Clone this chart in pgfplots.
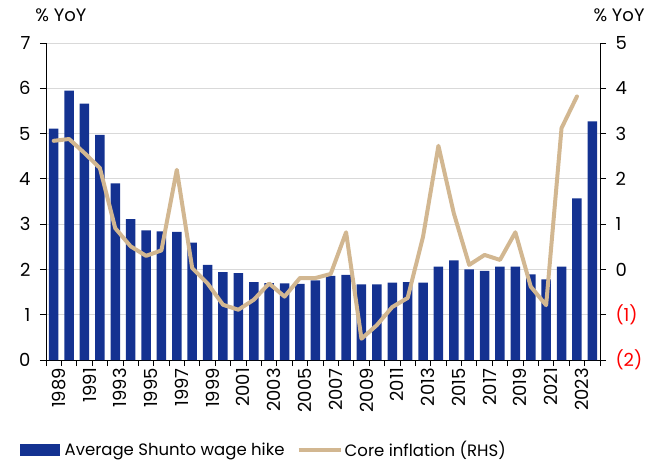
\documentclass[border=0pt]{standalone}
\usepackage{pgfplots}
\pgfplotsset{compat=1.18}
\usepackage{pgfplotstable}
\usepackage{fontspec}
\setmainfont{Poppins}
\definecolor{barblue}{RGB}{20,50,145}
\definecolor{tanline}{RGB}{210,183,145}
\definecolor{gridgray}{RGB}{217,217,217}

\pgfplotstableread{
x wage
0 5.11
1 5.95
2 5.66
3 4.97
4 3.90
5 3.11
6 2.86
7 2.84
8 2.83
9 2.59
10 2.10
11 1.94
12 1.92
13 1.72
14 1.70
15 1.69
16 1.68
17 1.76
18 1.86
19 1.88
20 1.67
21 1.67
22 1.71
23 1.72
24 1.71
25 2.06
26 2.20
27 2.00
28 1.97
29 2.06
30 2.06
31 1.89
32 1.78
33 2.06
34 3.57
35 5.27
}\wagedata

\pgfplotstableread{
x core
0 2.84
1 2.88
2 2.57
3 2.24
4 0.91
5 0.51
6 0.30
7 0.42
8 2.20
9 0.03
10 -0.31
11 -0.78
12 -0.89
13 -0.67
14 -0.31
15 -0.60
16 -0.19
17 -0.19
18 -0.10
19 0.82
20 -1.53
21 -1.23
22 -0.83
23 -0.63
24 0.72
25 2.73
26 1.24
27 0.10
28 0.32
29 0.21
30 0.82
31 -0.38
32 -0.79
33 3.12
34 3.82
}\coredata

\newcommand{\fs}{\fontsize{18}{20}\selectfont}
\newcommand{\fl}{\fontsize{16.5}{18}\selectfont}

\begin{document}
\begin{tikzpicture}
\path[use as bounding box] (0,0) rectangle (664pt,466pt);
\begin{axis}[
  at={(46pt,106pt)}, anchor=south west,
  scale only axis, width=554pt, height=317pt,
  xmin=-0.5, xmax=35.5, ymin=0, ymax=7,
  ytick={0,...,7},
  axis x line*=bottom, axis y line*=left,
  axis line style={-, black, line width=0.8pt},
  tick style={black, line width=0.8pt},
  tick align=outside, major tick length=6pt,
  ymajorgrids, grid style={gridgray, line width=0.8pt},
  xtick={-0.5,0.5,...,35.5}, xticklabels={},
  extra x ticks={0,2,...,34},
  extra x tick labels={1989,1991,1993,1995,1997,1999,2001,2003,2005,2007,2009,2011,2013,2015,2017,2019,2021,2023},
  extra x tick style={major tick length=0pt, grid=none,
    tick label style={xshift=5pt, yshift=-6pt, rotate=90, anchor=east, inner sep=2pt}},
  /pgf/number format/assume math mode=true,
  tick label style={font=\fs},
  yticklabel style={xshift=-6pt},
  legend style={at={(0.393,-0.284)}, anchor=center, draw=none, fill=none,
    font=\fl, legend columns=2,
    /tikz/every even column/.append style={column sep=10pt}},
  legend cell align=left,
]
\addplot[ybar, bar width=9.5pt, fill=barblue, draw=none,
  legend image code/.code={\fill[barblue] (0pt,-6pt) rectangle (40pt,6pt); \path (43pt,0pt);}]
  table[x=x,y=wage]{\wagedata};
\addlegendentry{Average Shunto wage hike}
\addlegendimage{legend image code/.code={\draw[tanline, line width=4pt] (0pt,0pt) -- (42pt,0pt); \path (44pt,0pt);}}
\addlegendentry{Core inflation (RHS)}
\end{axis}
\begin{axis}[
  at={(46pt,106pt)}, anchor=south west,
  scale only axis, width=554pt, height=317pt,
  xmin=-0.5, xmax=35.5, ymin=-2, ymax=5,
  ytick={-2,...,5},
  yticklabels={\textcolor{red}{(2)},\textcolor{red}{(1)},0,1,2,3,4,5},
  axis x line=none, axis y line*=right,
  axis line style={-, black, line width=0.8pt},
  tick style={black, line width=0.8pt},
  tick align=outside, major tick length=6pt,
  /pgf/number format/assume math mode=true,
  tick label style={font=\fs},
  yticklabel style={xshift=6pt},
]
\addplot[tanline, line width=4pt, line join=round, line cap=round]
  table[x=x,y=core]{\coredata};
\end{axis}
\node[font=\fs] at (61pt,451pt) {\% YoY};
\node[font=\fs] at (619pt,451pt) {\% YoY};
\end{tikzpicture}
\end{document}
